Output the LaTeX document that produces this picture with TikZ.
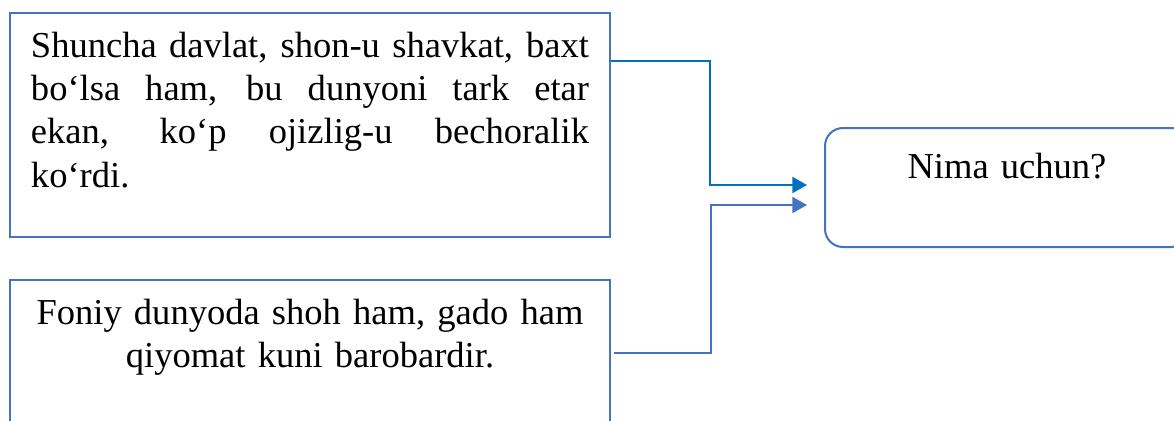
\documentclass[tikz,border=0pt]{standalone}
\usepackage{fontspec}
\setmainfont{Liberation Serif}
\usepackage{xcolor}
\usepackage{tikz}
\usetikzlibrary{shapes, arrows.meta, calc}

\definecolor{boxblue}{RGB}{68,114,196}
\definecolor{linkblue}{RGB}{0,112,192}

\tikzset{
    qbox/.style={draw=boxblue, line width=1.5pt, anchor=north west, inner ysep=0pt, font=\fontsize{27.4}{32.6}\selectfont},
    qround/.style={draw=boxblue, line width=1.5pt, anchor=north west, rounded corners=13.5pt, inner sep=0pt, text width=273pt, align=center, font=\fontsize{27.4}{32.6}\selectfont},
    qlink/.style={line width=1.5pt, -{Triangle[length=11pt,width=12pt]}}
}

\begin{document}
\begin{tikzpicture}[x=0.75pt,y=0.75pt,yscale=-1,xscale=1]

        \useasboundingbox (0,0) rectangle (1174,421);

        \node [qbox, align=justify, inner xsep=15.75pt, text width=418.5pt] (savol) at (9,12) {\rule{0pt}{33pt}Shuncha davlat, shon-u shavkat, baxt\linebreak bo‘lsa ham, bu dunyoni tark etar\linebreak ekan, ko‘p ojizlig-u bechoralik\linebreak ko‘rdi.\rule[-37pt]{0pt}{37pt}};
        \node [qbox, align=center, inner xsep=3pt, text width=444pt] (javob) at (9,279) {\rule{0pt}{33pt}Foniy dunyoda shoh ham, gado ham\\ qiyomat kuni barobardir.\rule[-102pt]{0pt}{102pt}};
        \node [qround] (nima) at (824,127) {\rule{0pt}{37.5pt}Nima uchun?\rule[-51.75pt]{0pt}{51.75pt}};

        \draw [qlink, linkblue] ($(savol.north east)+(0,49)$) -- ++(99,0) |- ($(nima.west)+(-17,-2.5)$);
        \draw [qlink, boxblue] ($(javob.north east)+(3,74)$) -- ++(97,0) |- ($(nima.west)+(-17,17.5)$);

    \end{tikzpicture}
\end{document}
